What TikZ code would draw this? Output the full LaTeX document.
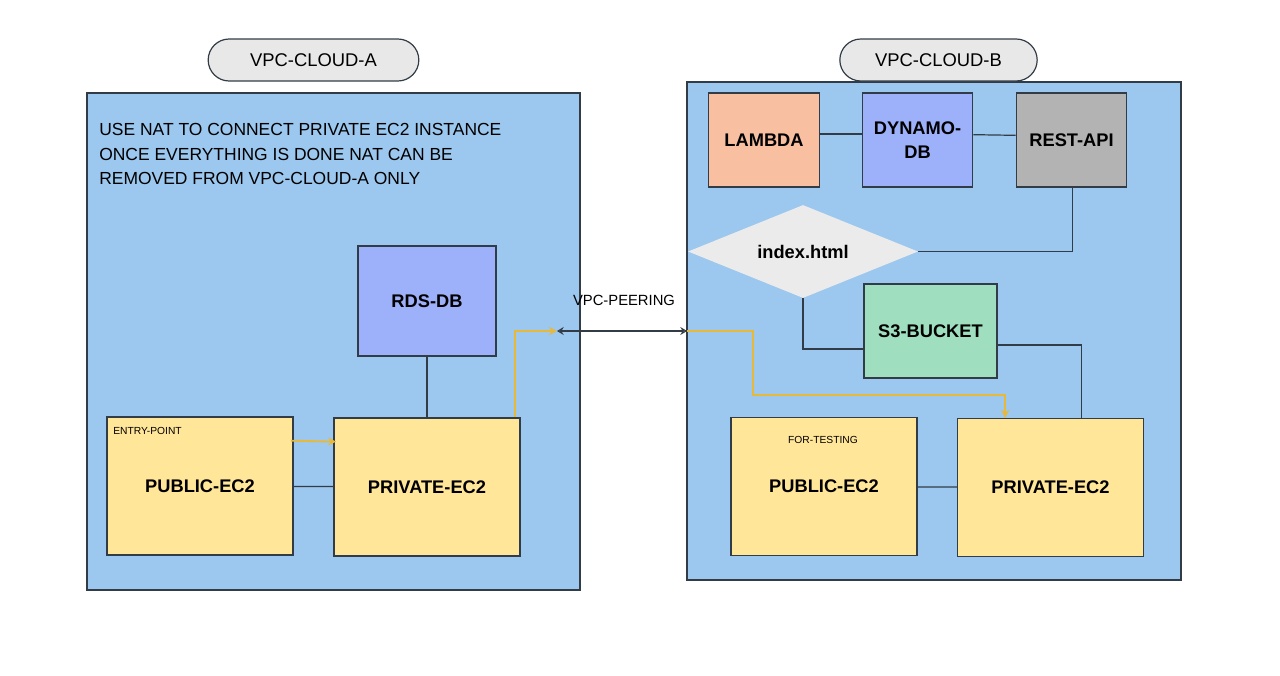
\documentclass[tikz,border=0pt]{standalone}
\usepackage{fontspec}
\setmainfont{Liberation Sans}
\usetikzlibrary{arrows.meta,shapes.geometric}
\definecolor{vpcblue}{HTML}{9CC7EE}
\definecolor{edge}{HTML}{323C46}
\definecolor{ecyellow}{HTML}{FFE699}
\definecolor{dbblue}{HTML}{9DB0FA}
\definecolor{peach}{HTML}{F8C0A0}
\definecolor{apigray}{HTML}{B3B3B3}
\definecolor{mint}{HTML}{9FDFBF}
\definecolor{htmlgray}{HTML}{EBEBEB}
\definecolor{pillgray}{HTML}{E8E8E8}
\definecolor{natgold}{HTML}{E6B93A}
\begin{document}
\begin{tikzpicture}[x=0.75pt,y=-0.75pt,
  panel/.style={draw=edge,line width=0.9pt,fill=vpcblue},
  pill/.style={draw=edge,line width=0.9pt,fill=pillgray,rounded corners=15.75pt,
    minimum height=31.5pt,font=\fontsize{13.8}{16}\selectfont},
  box/.style={draw=edge,line width=0.9pt,inner sep=0pt,align=center,
    font=\bfseries\fontsize{13.7}{18}\selectfont},
  ec2/.style={box,fill=ecyellow,minimum width=139.5pt,minimum height=103.5pt},
  svc/.style={box,minimum width=83pt,minimum height=70.5pt},
  tag/.style={font=\fontsize{7.7}{10}\selectfont},
  link/.style={draw=edge,line width=0.9pt},
  nat/.style={draw=natgold,line width=1.4pt,-{Stealth[length=6pt,width=6pt]}}]
\useasboundingbox (0,0) rectangle (1280,675);
% the two vpcs
\draw[panel] (87,93) rectangle (580,590);
\draw[panel] (687,82) rectangle (1181,580);
\node[pill,minimum width=158pt] (pillA) at (313.5,60) {VPC-CLOUD-A};
\node[pill,minimum width=148pt] (pillB) at (938.5,60) {VPC-CLOUD-B};
% vpc-cloud-a
\node[anchor=north west,align=left,inner sep=0pt,font=\fontsize{13.1}{18.4}\selectfont]
  (nattext) at (99,123) {USE NAT TO CONNECT PRIVATE EC2 INSTANCE\\ONCE EVERYTHING IS DONE NAT CAN BE\\REMOVED FROM VPC-CLOUD-A ONLY};
\node[box,fill=dbblue,minimum width=103.5pt,minimum height=82.5pt] (rds) at (427,301) {RDS-DB};
\node[ec2] (pubA) at (200,486) {PUBLIC-EC2};
\node[ec2] (privA) at (427,487) {PRIVATE-EC2};
\node[tag,anchor=west,inner sep=0pt] (entry) at (113,431) {ENTRY-POINT};
\draw[link] (rds) -- (privA);
\draw[link] (pubA) -- (privA);
\draw[nat] ([shift={(-2pt,34pt)}]pubA.east) -- ([shift={(2pt,34pt)}]privA.west);
% peering
\coordinate (peerL) at (557,331);
\coordinate (peerR) at (687,331);
\node[font=\fontsize{11.1}{14}\selectfont] (peering) at (624,300) {VPC-PEERING};
\draw[link,{Stealth[length=5pt,width=6pt,open]}-{Stealth[length=5pt,width=6pt,open]}] (peerL) -- (peerR);
\draw[nat] ([xshift=-4.5pt]privA.north east) |- (peerL);
% vpc-cloud-b
\node[svc,fill=peach] (lambda) at (764,140) {LAMBDA};
\node[svc,fill=dbblue] (dynamo) at (917.5,140) {DYNAMO-\\DB};
\node[svc,fill=apigray] (restapi) at (1071.5,140) {REST-API};
\node[diamond,fill=htmlgray,aspect=2.5,inner sep=0pt,minimum width=172.5pt,minimum height=69.75pt,
  font=\bfseries\fontsize{13.7}{16}\selectfont] (index) at (803,251.5) {index.html};
\node[svc,fill=mint,minimum width=99.75pt] (sthree) at (930.5,331) {S3-BUCKET};
\node[ec2] (pubB) at (824,486.5) {PUBLIC-EC2};
\node[ec2] (privB) at (1050.5,487.5) {PRIVATE-EC2};
\node[tag] (testing) at (823,440) {FOR-TESTING};
\draw[link] ([yshift=4.5pt]lambda.east) -- ([yshift=4.5pt]dynamo.west);
\draw[link] ([yshift=4pt]dynamo.east) -- ([yshift=3.5pt]restapi.west);
\draw[link] ([xshift=1pt]restapi.south) |- (index.east);
\draw[link] (index.south) |- ([yshift=-13.5pt]sthree.west);
\draw[link] ([yshift=-10.5pt]sthree.east) -| ([xshift=23.5pt]privB.north);
\draw[link] (pubB) -- (privB);
\draw[nat] (peerR) -- ++(66,0) |- ([shift={(-34pt,17.25pt)}]privB.north) -- ([xshift=-34pt]privB.north);
\end{tikzpicture}
\end{document}
